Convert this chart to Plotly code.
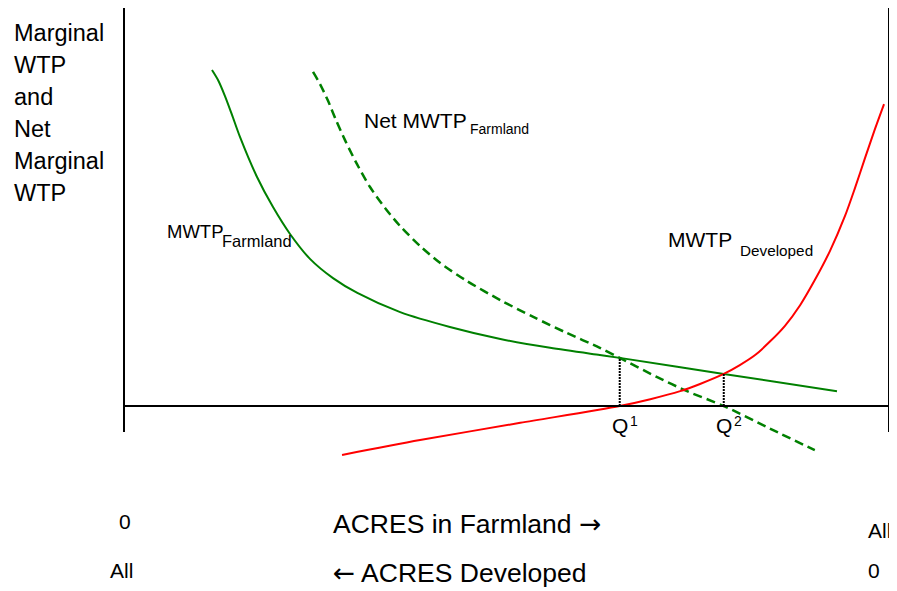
import plotly.graph_objects as go

# ---- data (x: acres in farmland, 0..100; y: marginal WTP, 0 at horizontal axis) ----
farm_x = [11.50, 12.29, 13.20, 14.12, 15.16, 17.39, 19.48, 21.70, 24.31, 27.32, 30.5, 36.1, 42.6, 49.2, 55.7, 62.2, 64.8, 78.4, 93.2]
farm_y = [83.8, 81.3, 77.3, 72.6, 67.1, 57.1, 49.6, 42.9, 36.7, 31.9, 28.2, 23.4, 19.7, 16.7, 14.5, 12.7, 12.0, 8.0, 3.7]

net_x = [24.71, 25.62, 26.67, 27.71, 28.89, 30.46, 32.16, 34.12, 36.08, 38.7, 41.3, 44.8, 49.2, 53.5, 57.9, 62.2, 64.8, 69.7, 73.6, 78.4, 84.4, 90.3]
net_y = [83.3, 80.3, 76.1, 71.3, 66.3, 60.3, 54.6, 49.4, 44.9, 39.9, 35.7, 31.2, 26.4, 22.2, 18.2, 14.5, 12.0, 7.2, 3.7, 0.0, -5.6, -11.0]

dev_x = [28.5, 38.7, 51.8, 64.8, 68.8, 72.7, 75.3, 78.4, 80.5, 82.5, 84.4, 86.4, 88.4, 90.3, 92.29, 94.25, 95.56, 96.86, 98.17, 99.35]
dev_y = [-12.2, -8.5, -4.2, 0.0, 1.7, 3.7, 5.5, 8.0, 10.2, 12.7, 16.0, 20.0, 25.2, 31.4, 38.7, 47.4, 54.4, 61.8, 69.1, 75.3]

q_x = [64.8, 78.4]          # Q1, Q2
q_y = [12.0, 8.0]           # height of MWTP Farmland at Q1, Q2
q_labels = ["1", "2"]

axis_top, axis_bottom = 100.0, -6.5
x_min, x_max = 0.0, 100.0

# page has an 8px body margin: size the figure so it fits the 897x591 window
OFF = 8
W, H = 897 - OFF, 591 - OFF
FONT = "Liberation Sans, Arial, Helvetica, sans-serif"
GREEN = "#008000"
RED = "#ff0000"

fig = go.Figure()

fig.add_trace(go.Scatter(x=farm_x, y=farm_y, mode="lines",
                         line=dict(color=GREEN, width=2, shape="spline", smoothing=0.8),
                         hoverinfo="skip"))
fig.add_trace(go.Scatter(x=net_x, y=net_y, mode="lines",
                         line=dict(color=GREEN, width=2.5, dash="9px,5px", shape="spline", smoothing=0.8),
                         hoverinfo="skip"))
fig.add_trace(go.Scatter(x=dev_x, y=dev_y, mode="lines",
                         line=dict(color=RED, width=2, shape="spline", smoothing=0.8),
                         hoverinfo="skip"))

# axes lines
fig.add_shape(type="line", x0=x_min, x1=x_min, y0=axis_bottom, y1=axis_top, xref="x", yref="y",
              line=dict(color="black", width=2))
fig.add_shape(type="line", x0=x_max, x1=x_max, y0=axis_bottom, y1=axis_top, xref="x", yref="y",
              line=dict(color="black", width=2))
fig.add_shape(type="line", x0=x_min, x1=x_max, y0=0, y1=0, xref="x", yref="y",
              line=dict(color="black", width=2))

# dotted drop lines at Q1, Q2
for qx, qy in zip(q_x, q_y):
    fig.add_shape(type="line", x0=qx, x1=qx, y0=0, y1=qy, xref="x", yref="y",
                  line=dict(color="black", width=2, dash="2px,1px"))


def ann(text, px, py, size, xanchor="left"):
    fig.add_annotation(text=text, x=(px - OFF) / W, y=1 - (py - OFF) / H, xref="paper", yref="paper",
                       xanchor=xanchor, yanchor="middle", showarrow=False,
                       font=dict(family=FONT, size=size, color="black"))


ARROW_R = "<span style='font-family:DejaVu Sans'>\u2192</span>"
ARROW_L = "<span style='font-family:DejaVu Sans'>\u2190</span>"

# y-axis title lines
for i, t in enumerate(["Marginal", "WTP", "and", "Net", "Marginal", "WTP"]):
    ann(t, 12, 33 + 32 * i, 23.5)

# curve labels
ann("MWTP", 165, 231, 18.5)
ann("Farmland", 220, 241, 16.5)
ann("Net MWTP", 362, 121, 21)
ann("Farmland", 468, 129, 14)
ann("MWTP", 666, 239, 21)
ann("Developed", 738, 250, 15.3)

# Q labels
q_px = [612, 716]
for qp, lab in zip(q_px, q_labels):
    ann("Q", qp - 2, 425, 21)
    ann(lab, qp + 16, 421, 14)

# bottom labels
ann("0", 117, 521, 21)
ann("ACRES in Farmland " + ARROW_R, 331, 523, 26.5)
ann("All", 866, 530, 21)
ann("All", 108, 570, 21)
ann(ARROW_L + " ACRES Developed", 331, 572, 26.5)
ann("0", 866, 570, 21)

x_lo = (OFF - 124) / 7.65
x_hi = (897 - 124) / 7.65
y_hi = (406 - OFF) / 4.01
y_lo = (406 - 591) / 4.01

fig.update_layout(
    width=W, height=H,
    margin=dict(l=0, r=0, t=0, b=0),
    paper_bgcolor="white", plot_bgcolor="white",
    showlegend=False,
    xaxis=dict(range=[x_lo, x_hi], visible=False, fixedrange=True),
    yaxis=dict(range=[y_lo, y_hi], visible=False, fixedrange=True),
)

# hide scrollbars so the right edge of the page is not covered
fig.write_html("out.html", config={"displayModeBar": False},
               post_script="document.documentElement.style.overflow='hidden';"
                           "document.body.style.overflow='hidden';")
